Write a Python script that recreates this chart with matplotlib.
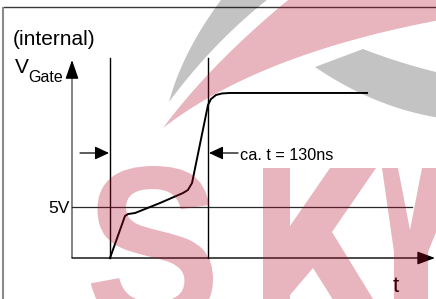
import numpy as np
import matplotlib
matplotlib.use("Agg")
import matplotlib.pyplot as plt
from matplotlib.path import Path
from matplotlib.patches import PathPatch, Polygon
from matplotlib.textpath import TextPath
from matplotlib.font_manager import FontProperties

# ---------------- data (time in ns, gate voltage in V) ----------------
t_ns = [0, 19.9, 23.9, 33.2, 66.3, 96.8, 103.4, 108.8, 130, 134, 140.6, 148.5, 159, 341]
v_gate = [0, 4.12, 4.31, 4.41, 5.39, 6.37, 6.67, 7.35, 15.0, 15.59, 15.98, 16.13, 16.18, 16.18]
t_mark = [0, 130]          # start / end of the switching interval
v_level = 5                # reference level
label_level = "5V"
label_time = "ca. t = 130ns"
label_top = "(internal)"
label_v = "V"
label_v_sub = "Gate"
label_t = "t"

# ---------------- layout ----------------
W, H = 436, 299
PX_T = 98 / 130.0   # px per ns
PX_V = 51 / 5.0     # px per V
X0, Y0 = 110, 258   # pixel position of t=0, V=0

fig = plt.figure(figsize=(W / 100, H / 100), dpi=100)
fig.patch.set_facecolor("white")
ax = fig.add_axes([0, 0, 1, 1])
ax.set_xlim(-X0 / PX_T, (W - X0) / PX_T)
ax.set_ylim(-(H - Y0) / PX_V, Y0 / PX_V)
ax.axis("off")

def tx(px):
    return (px - X0) / PX_T

def vy(py):
    return (Y0 - py) / PX_V

FONT = "Liberation Sans"

# frame lines
ax.plot([tx(3), tx(437)], [vy(7), vy(7)], color="#3a3a3a", lw=1.0, solid_capstyle="butt")
ax.plot([tx(3), tx(3)], [vy(7), vy(300)], color="#8a8a8a", lw=1.5, solid_capstyle="butt")

# axes of the diagram
t_axis = tx(72)
ax.plot([t_axis, t_axis], [0, vy(74)], color="#7a7a7a", lw=1.3, solid_capstyle="butt")
ax.annotate("", xy=(t_axis, vy(60)), xytext=(t_axis, vy(75)),
            arrowprops=dict(arrowstyle="-|>,head_length=1.15,head_width=0.4",
                            color="black", lw=1.0, shrinkA=0, shrinkB=0, mutation_scale=10))
ax.annotate("", xy=(tx(435), 0), xytext=(t_axis, 0),
            arrowprops=dict(arrowstyle="-|>,head_length=1.08,head_width=0.4",
                            color="black", lw=1.0, shrinkA=0, shrinkB=0, mutation_scale=10))

# 5V level
ax.plot([t_axis, tx(412)], [v_level, v_level], color="#2a2a2a", lw=0.9)

# vertical markers
for tm in t_mark:
    ax.plot([tm, tm], [0, vy(58)], color="black", lw=1.0)

# dimension arrows
v_dim = vy(153)
ax.annotate("", xy=(t_mark[0] - 1.3, v_dim), xytext=(tx(80), v_dim),
            arrowprops=dict(arrowstyle="-|>,head_length=0.86,head_width=0.4",
                            color="black", lw=0.9, shrinkA=0, shrinkB=0, mutation_scale=10))
ax.annotate("", xy=(t_mark[1] + 1.3, v_dim), xytext=(tx(238), v_dim),
            arrowprops=dict(arrowstyle="-|>,head_length=0.86,head_width=0.4",
                            color="black", lw=0.9, shrinkA=0, shrinkB=0, mutation_scale=10))

# gate voltage curve
ax.plot(t_ns, v_gate, color="black", lw=1.4, solid_joinstyle="round")

# texts
ax.text(tx(13), vy(45), label_top, fontsize=15, family=FONT, ha="left", va="baseline")
ax.text(tx(15), vy(73), label_v, fontsize=15, family=FONT, ha="left", va="baseline")
ax.text(tx(28), vy(82), label_v_sub, fontsize=11.5, family=FONT, ha="left", va="baseline")
ax.text(tx(70), vy(213), label_level, fontsize=12.5, family=FONT, ha="right", va="baseline")
ax.text(tx(240), vy(160), label_time, fontsize=11.7, family=FONT, ha="left", va="baseline")
ax.text(tx(393), vy(292), label_t, fontsize=16, family=FONT, ha="left", va="baseline")

# ---------------- watermark overlay (pixel coordinates) ----------------
ov = fig.add_axes([0, 0, 1, 1], zorder=5)
ov.set_xlim(0, W)
ov.set_ylim(H, 0)
ov.axis("off")
ov.patch.set_alpha(0)

PINK = (182 / 255, 8 / 255, 38 / 255)
PINK_A = 0.3
GRAY_A = 0.235

def qbez(p0, c, p2, n=40):
    s = np.linspace(0, 1, n)[:, None]
    p0, c, p2 = map(np.asarray, (p0, c, p2))
    return (1 - s) ** 2 * p0 + 2 * (1 - s) * s * c + s ** 2 * p2

# gray swoosh (upper)
outer = qbez((169, 102), (183, 50), (224, -4))
inner = qbez((169, 102), (215, 40), (272, -4))
ov.add_patch(Polygon(np.vstack([outer, inner[::-1]]), closed=True,
                     facecolor="black", alpha=GRAY_A, edgecolor="none"))
# pink swoosh
low = qbez((163, 128), (258.5, 54), (440, 20))
up = qbez((163, 128), (212, 62), (293, -4))
ov.add_patch(Polygon(np.vstack([low, [(440, -4)], up[::-1]]), closed=True,
                     facecolor=PINK, alpha=PINK_A, edgecolor="none"))
# gray crescent (right)
cu = qbez((363, 49), (400.5, 63.5), (440, 73))
cl = qbez((315, 67), (374.5, 107.5), (440, 118))
ov.add_patch(Polygon(np.vstack([[(315, 67)], cu, cl[::-1]]), closed=True,
                     facecolor="black", alpha=GRAY_A, edgecolor="none"))

# letter S
fp = FontProperties(family=FONT, weight="bold")
tp = TextPath((0, 0), "S", size=1, prop=fp)
v = tp.vertices.copy()
bx0, by0 = v.min(axis=0)
bx1, by1 = v.max(axis=0)
sx0, sx1, sy0, sy1 = 85, 213, 166, 326
nv = np.column_stack([sx0 + (v[:, 0] - bx0) / (bx1 - bx0) * (sx1 - sx0),
                      sy0 + (by1 - v[:, 1]) / (by1 - by0) * (sy1 - sy0)])
ov.add_patch(PathPatch(Path(nv, tp.codes), facecolor=PINK, alpha=PINK_A, edgecolor="none"))

# letter K
k_shape = [(263, 168), (290, 168), (290, 226), (330, 168), (376, 168), (332, 232),
           (392, 330), (352, 330), (313, 268), (290, 295), (290, 330), (263, 330)]
ov.add_patch(Polygon(k_shape, closed=True, facecolor=PINK, alpha=PINK_A, edgecolor="none"))
# letter Y
y_shape = [(382, 168), (398, 168), (410, 230), (422, 168), (462, 168), (428, 252),
           (428, 330), (394, 330), (394, 252)]
ov.add_patch(Polygon(y_shape, closed=True, facecolor=PINK, alpha=PINK_A, edgecolor="none"))

fig.savefig("out.png", dpi=100, facecolor="white")
